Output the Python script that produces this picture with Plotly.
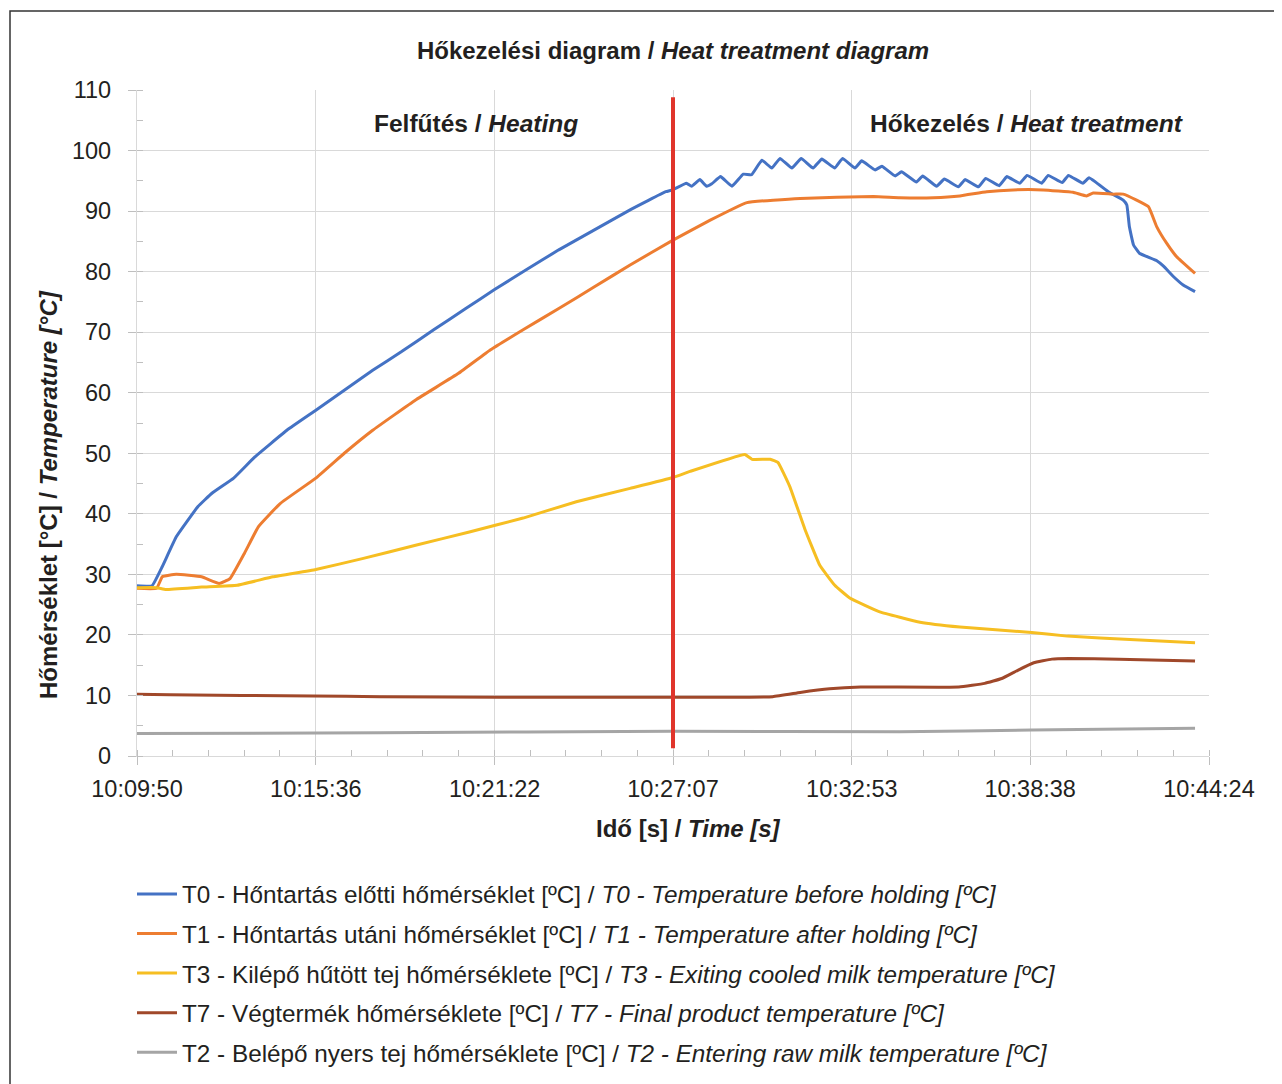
import plotly.graph_objects as go

# ---- data (elapsed seconds from 10:09:50, temperature in °C) ----
tick_labels = ["10:09:50", "10:15:36", "10:21:22", "10:27:07", "10:32:53", "10:38:38", "10:44:24"]
tick_secs = [0, 346, 692, 1037, 1383, 1728, 2074]

t0_s = [0, 29, 49, 76, 118, 145, 187, 228, 290, 346, 401, 456, 512, 574, 636, 691, 753, 816, 885, 954,
        1023, 1036, 1063, 1073, 1089, 1102, 1112, 1129, 1151, 1173, 1189, 1209, 1228, 1244, 1267, 1285,
        1308, 1325, 1350, 1365, 1389, 1402, 1428, 1441, 1467, 1479, 1508, 1520, 1547, 1562, 1589, 1602,
        1628, 1642, 1668, 1683, 1708, 1722, 1750, 1763, 1790, 1802, 1830, 1842, 1879, 1908, 1915, 1920,
        1928, 1940, 1973, 1986, 2005, 2024, 2047]
t0_v = [28.1, 28.1, 31.3, 36.2, 41.2, 43.4, 45.9, 49.4, 53.8, 57.1, 60.4, 63.7, 66.8, 70.4, 73.9, 77.0,
        80.3, 83.6, 86.9, 90.2, 93.2, 93.5, 94.6, 94.1, 95.2, 94.1, 94.5, 95.7, 94.1, 96.1, 96.0, 98.4,
        97.1, 98.7, 97.1, 98.7, 97.1, 98.6, 97.1, 98.7, 97.1, 98.3, 96.8, 97.4, 95.8, 96.5, 94.8, 95.8,
        94.1, 95.3, 94.0, 95.2, 94.0, 95.4, 94.2, 95.7, 94.6, 95.9, 94.6, 95.9, 94.7, 95.9, 94.6, 95.5,
        93.2, 91.8, 91.0, 87.4, 84.4, 83.0, 81.8, 80.9, 79.2, 77.8, 76.7]

t1_s = [0, 38, 49, 76, 125, 159, 180, 208, 235, 277, 346, 401, 456, 539, 622, 684, 747, 816, 885, 954,
        1037, 1109, 1180, 1283, 1425, 1476, 1541, 1592, 1644, 1695, 1753, 1811, 1837, 1850, 1889, 1908,
        1934, 1957, 1973, 1992, 2011, 2047]
t1_v = [27.7, 27.7, 29.6, 30.0, 29.6, 28.5, 29.3, 33.5, 37.9, 41.7, 45.9, 50.0, 53.8, 58.8, 63.2, 67.1,
        70.4, 73.9, 77.5, 81.1, 85.2, 88.5, 91.4, 92.1, 92.4, 92.2, 92.2, 92.5, 93.2, 93.5, 93.5, 93.1,
        92.5, 93.0, 92.8, 92.8, 91.8, 90.7, 87.4, 84.7, 82.5, 79.7]

t3_s = [0, 38, 56, 125, 194, 263, 346, 436, 539, 643, 747, 850, 954, 1037, 1070, 1176, 1190, 1225, 1240,
        1263, 1292, 1321, 1350, 1379, 1437, 1515, 1592, 1731, 1800, 1863, 2047]
t3_v = [27.8, 27.8, 27.5, 27.9, 28.2, 29.6, 30.8, 32.6, 34.8, 37.0, 39.3, 42.0, 44.2, 46.0, 47.0, 49.8,
        49.0, 49.0, 48.5, 44.5, 37.5, 31.5, 28.2, 26.1, 23.8, 22.1, 21.3, 20.4, 19.8, 19.5, 18.7]

t7_s = [0, 64, 340, 470, 700, 1000, 1230, 1283, 1340, 1400, 1590, 1640, 1673, 1705, 1735, 1770, 1803, 1900, 2047]
t7_v = [10.2, 10.1, 9.9, 9.8, 9.7, 9.7, 9.8, 10.5, 11.1, 11.4, 11.4, 12.0, 12.8, 14.2, 15.4, 16.0, 16.1, 16.0, 15.7]

t2_s = [0, 470, 1037, 1476, 1731, 2047]
t2_v = [3.7, 3.85, 4.1, 4.0, 4.3, 4.6]

series = [
    ("T0 - Hőntartás előtti hőmérséklet [ºC] / <i>T0 - Temperature before holding [ºC]</i>", t0_s, t0_v, "#4472C4"),
    ("T1 - Hőntartás utáni hőmérséklet [ºC] / <i>T1 - Temperature after holding [ºC]</i>", t1_s, t1_v, "#ED7D31"),
    ("T3 - Kilépő hűtött tej hőmérséklete [ºC] / <i>T3 - Exiting cooled milk temperature [ºC]</i>", t3_s, t3_v, "#F6BE22"),
    ("T7 - Végtermék hőmérséklete [ºC] / <i>T7 - Final product temperature [ºC]</i>", t7_s, t7_v, "#A0482A"),
    ("T2 - Belépő nyers tej hőmérséklete [ºC] / <i>T2 - Entering raw milk temperature [ºC]</i>", t2_s, t2_v, "#A5A5A5"),
]

divider_time = 1037
x_max = 2074

FONT = "Liberation Sans, Arial, sans-serif"
TXT = "#231F20"
GRID = "#D9D9D9"

# page has an 8px body margin -> figure is laid out 8px smaller and shifted
W, H = 1274, 1076
L, T, R, B = 129, 82, 73, 328
PW, PH = W - L - R, H - T - B   # 1072 x 666

fig = go.Figure()
for i, (name, xs, ys, col) in enumerate(series):
    fig.add_trace(go.Scatter(x=xs, y=ys, mode="lines", name=name, legendgroup=f"g{i}",
                             line=dict(color=col, width=3, shape="spline", smoothing=0.3)))

fig.update_layout(
    width=W, height=H,
    margin=dict(l=L, r=R, t=T, b=B, autoexpand=False),
    paper_bgcolor="white", plot_bgcolor="white",
    font=dict(family=FONT, color=TXT, size=23),
    title=dict(text="<b>Hőkezelési diagram / <i>Heat treatment diagram</i></b>",
               x=0.5, xref="paper", xanchor="center", y=1 - 43 / H, yanchor="middle",
               font=dict(size=24, color=TXT, family=FONT)),
    showlegend=True,
    legend=dict(x=-5 / PW, xanchor="left", y=-0.1736, yanchor="top", orientation="v",
                font=dict(size=24.3, color=TXT, family=FONT), tracegroupgap=5,
                itemwidth=40, bgcolor="rgba(0,0,0,0)"),
)

fig.update_xaxes(
    range=[0, x_max], tickmode="array", tickvals=tick_secs, ticktext=tick_labels,
    showgrid=True, gridcolor=GRID, gridwidth=1.3,
    showline=True, linecolor=GRID, linewidth=1.3,
    ticks="outside", ticklen=8, tickcolor="#BFBFBF", tickwidth=1.3,
    tickfont=dict(size=23.5, color=TXT), zeroline=False, ticklabelstandoff=4,
    minor=dict(ticks="inside", ticklen=6, tickcolor="#BFBFBF", tickwidth=1.3,
               tick0=0, dtick=x_max / 30, showgrid=False),
)
fig.update_yaxes(
    range=[0, 110], tickmode="linear", tick0=0, dtick=10,
    showgrid=True, gridcolor=GRID, gridwidth=1.3,
    showline=True, linecolor=GRID, linewidth=1.3,
    ticks="outside", ticklen=8, tickcolor="#BFBFBF", tickwidth=1.3,
    tickfont=dict(size=23.5, color=TXT), zeroline=False, ticklabelstandoff=12,
    minor=dict(ticks="inside", ticklen=6, tickcolor="#BFBFBF", tickwidth=1.3,
               dtick=5, showgrid=False),
)

# divider line
fig.add_shape(type="line", x0=divider_time, x1=divider_time, y0=1.3, y1=108.8,
              xref="x", yref="y", line=dict(color="#E0352B", width=4))

# phase labels
fig.add_annotation(x=656, y=104.4, xref="x", yref="y", showarrow=False,
                   text="<b>Felfűtés / <i>Heating</i></b>", font=dict(size=24.5, color=TXT))
fig.add_annotation(x=1720, y=104.5, xref="x", yref="y", showarrow=False,
                   text="<b>Hőkezelés / <i>Heat treatment</i></b>", font=dict(size=24.5, color=TXT))

# axis titles (page px -> paper)
fig.add_annotation(x=(688 - 137) / PW, y=-(828 - 756) / PH, xref="paper", yref="paper",
                   showarrow=False, yanchor="middle",
                   text="<b>Idő [s] / <i>Time [s]</i></b>", font=dict(size=24, color=TXT))
fig.add_annotation(x=(48 - 137) / PW, y=(756 - 495) / PH, xref="paper", yref="paper",
                   showarrow=False, textangle=-90, xanchor="center", yanchor="middle",
                   text="<b>Hőmérséklet [°C] / <i>Temperature [°C]</i></b>", font=dict(size=24, color=TXT))

# outer frame
fig.add_shape(type="rect", xref="paper", yref="paper",
              x0=(10 - 137) / PW, x1=1.3, y0=-0.6, y1=(756 - 11) / PH,
              line=dict(color="#333333", width=1.5), fillcolor="rgba(0,0,0,0)", layer="below")

fig.write_html("out.html")
